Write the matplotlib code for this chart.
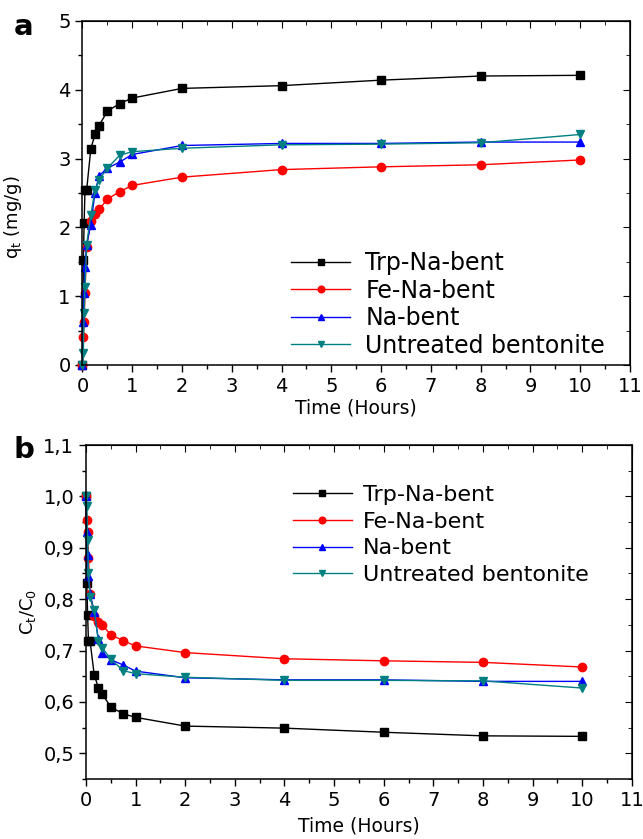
import matplotlib
matplotlib.use("Agg")
import matplotlib.pyplot as plt
from matplotlib.ticker import MultipleLocator, FuncFormatter

plt.rcParams['font.family'] = ['DejaVu Sans']

# time in hours
t = [0, 0.017, 0.033, 0.05, 0.083, 0.167, 0.25, 0.333, 0.5, 0.75, 1, 2, 4, 6, 8, 10]

labels = ["Trp-Na-bent", "Fe-Na-bent", "Na-bent", "Untreated bentonite"]
colors = ["black", "#ff0000", "#0000ff", "#008080"]
markers = ["s", "o", "^", "v"]
msizes = [5.5, 6, 6, 6]

# panel a : q_t (mg/g)
q_trp = [0, 1.52, 2.07, 2.54, 2.54, 3.14, 3.35, 3.48, 3.69, 3.80, 3.88, 4.02, 4.06, 4.14, 4.20, 4.21]
q_fe = [0, 0.40, 0.63, 1.05, 1.72, 2.09, 2.20, 2.26, 2.41, 2.52, 2.61, 2.73, 2.84, 2.88, 2.91, 2.98]
q_na = [0, 0.63, 1.05, 1.43, 1.75, 2.04, 2.50, 2.75, 2.86, 2.95, 3.06, 3.19, 3.22, 3.22, 3.24, 3.24]
q_unt = [0, 0.17, 0.76, 1.13, 1.75, 2.18, 2.54, 2.69, 2.86, 3.05, 3.10, 3.15, 3.20, 3.21, 3.23, 3.35]

# panel b : Ct/C0
c_trp = [1.0, 0.831, 0.770, 0.718, 0.718, 0.652, 0.628, 0.615, 0.590, 0.577, 0.570, 0.553, 0.549, 0.541, 0.534, 0.533]
c_fe = [1.0, 0.955, 0.930, 0.880, 0.810, 0.768, 0.756, 0.749, 0.731, 0.719, 0.709, 0.696, 0.684, 0.680, 0.677, 0.668]
c_na = [1.0, 0.930, 0.885, 0.845, 0.810, 0.775, 0.722, 0.695, 0.682, 0.672, 0.660, 0.647, 0.643, 0.643, 0.640, 0.640]
c_unt = [1.0, 0.981, 0.915, 0.850, 0.804, 0.778, 0.718, 0.705, 0.683, 0.661, 0.655, 0.648, 0.642, 0.642, 0.641, 0.627]

fig = plt.figure(figsize=(6.43, 8.39), dpi=100)
ax1 = fig.add_axes([0.1283, 0.565, 0.8515, 0.41])
ax2 = fig.add_axes([0.1337, 0.0715, 0.849, 0.3981])


def style_axis(ax, ymaj, ymin):
    ax.set_xlim(0, 11)
    ax.xaxis.set_major_locator(MultipleLocator(1))
    ax.xaxis.set_minor_locator(MultipleLocator(0.5))
    ax.yaxis.set_major_locator(MultipleLocator(ymaj))
    ax.yaxis.set_minor_locator(MultipleLocator(ymin))
    ax.tick_params(which='both', direction='out', top=False, right=False, labelsize=14, width=1)
    ax.tick_params(which='major', length=5)
    ax.tick_params(which='minor', length=3)
    for s in ax.spines.values():
        s.set_linewidth(1.1)
    # ticks pointing inside on top and right
    sec = ax.secondary_xaxis('top')
    sec.xaxis.set_major_locator(MultipleLocator(1))
    sec.xaxis.set_minor_locator(MultipleLocator(0.5))
    sec.tick_params(which='both', direction='in', labeltop=False)
    sec.tick_params(which='major', length=5)
    sec.tick_params(which='minor', length=3)
    secy = ax.secondary_yaxis('right')
    secy.yaxis.set_major_locator(MultipleLocator(ymaj))
    secy.yaxis.set_minor_locator(MultipleLocator(ymin))
    secy.tick_params(which='both', direction='in', labelright=False)
    secy.tick_params(which='major', length=5)
    secy.tick_params(which='minor', length=3)


# ---- panel a ----
for y, lab, c, m, s in zip([q_trp, q_fe, q_na, q_unt], labels, colors, markers, msizes):
    ax1.plot(t, y, color=c, marker=m, ms=s, lw=1, label=lab, clip_on=False)
ax1.set_ylim(0, 5)
style_axis(ax1, 1, 0.5)
ax1.set_xlabel("Time (Hours)", fontsize=13.5, labelpad=2)
ax1.set_ylabel("q$_\\mathregular{t}$ (mg/g)", fontsize=13)
ax1.yaxis.set_label_coords(-0.107, 0.43)
ax1.legend(loc='upper left', bbox_to_anchor=(291 / 643, 1 - 251 / 839), bbox_transform=fig.transFigure,
           frameon=False, fontsize=17, borderpad=0, borderaxespad=0, markerscale=0.8,
           handlelength=2.5, handletextpad=0.65, labelspacing=0.15)

# ---- panel b ----
for y, lab, c, m, s in zip([c_trp, c_fe, c_na, c_unt], labels, colors, markers, msizes):
    ax2.plot(t, y, color=c, marker=m, ms=s, lw=1, label=lab, clip_on=False)
ax2.set_ylim(0.45, 1.1)
style_axis(ax2, 0.1, 0.05)
comma = FuncFormatter(lambda v, p: ("%.1f" % v).replace(".", ","))
ax2.yaxis.set_major_formatter(comma)
ax2.set_xlabel("Time (Hours)", fontsize=13.5, labelpad=5)
ax2.set_ylabel("C$_\\mathregular{t}$/C$_\\mathregular{0}$", fontsize=13)
ax2.yaxis.set_label_coords(-0.088, 0.5)
ax2.legend(loc='upper left', bbox_to_anchor=(293 / 643, 1 - 485 / 839), bbox_transform=fig.transFigure,
           frameon=False, fontsize=16, borderpad=0, borderaxespad=0, markerscale=0.8,
           handlelength=2.65, handletextpad=0.5, labelspacing=0.3)

fig.text(24 / 643, 1 - 27 / 839, "a", fontsize=21, fontweight='bold', ha='center', va='center')
fig.text(24 / 643, 1 - 450 / 839, "b", fontsize=21, fontweight='bold', ha='center', va='center')

fig.savefig("out.png", dpi=100)
